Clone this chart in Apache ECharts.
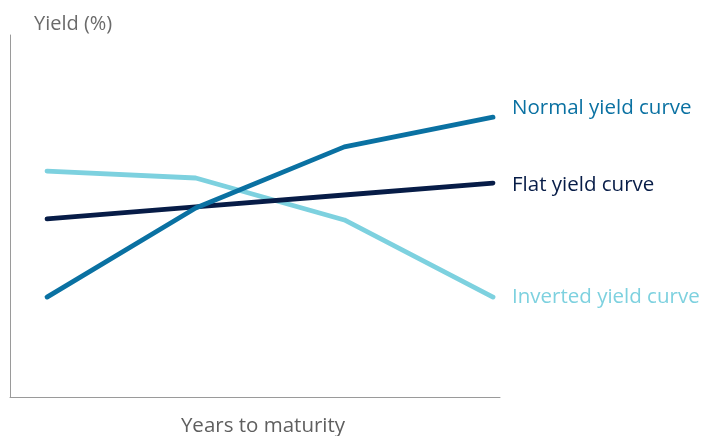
<!DOCTYPE html>
<html><head><meta charset="utf-8">
<script src="https://cdn.jsdelivr.net/npm/echarts@6/dist/echarts.min.js"></script>
<style>html,body{margin:0;padding:0;background:#fff}#c{width:705px;height:436px}</style>
</head><body><div id="c"></div>
<script>
const maturity = [0, 1, 2, 3];
const normalYield = [2.76, 5.22, 6.91, 7.73];
const flatYield = [4.92, 5.25, 5.58, 5.91];
const invertedYield = [6.24, 6.05, 4.89, 2.76];
const seriesNames = ['Normal yield curve', 'Flat yield curve', 'Inverted yield curve'];
const xTitle = 'Years to maturity';
const yTitle = 'Yield (%)';

const colors = ['#0a71a2', '#071c47', '#7dd1df'];
const labelOffsets = [[0, -9], [0, 2], [0, 0]];
const font = 'Open Sans';
const chart = echarts.init(document.getElementById('c'));
const mk = (name, vals, i) => ({
  name, type: 'line', data: maturity.map((x, k) => [x, vals[k]]),
  symbol: 'none', lineStyle: { width: 4.8, color: colors[i], cap: 'round', join: 'round' },
  itemStyle: { color: colors[i] },
  endLabel: { show: true, formatter: '{a}', color: colors[i], fontFamily: font, fontSize: 20.5, distance: 19, offset: labelOffsets[i] },
  z: i === 1 ? 3 : (i === 0 ? 4 : 2)
});
chart.setOption({
  animation: false,
  grid: { left: 10, right: 205, top: 35, bottom: 39, outerBoundsMode: 'none', containLabel: false },
  xAxis: {
    type: 'value', min: -0.249, max: 3.047,
    name: xTitle, nameLocation: 'middle', nameGap: 17,
    nameTextStyle: { color: '#5f5f5f', fontFamily: font, fontSize: 20.5, padding: [2, 0, 0, 16] },
    axisLine: { show: true, onZero: false, lineStyle: { color: '#9a9a9a', width: 1 } },
    axisTick: { show: false }, axisLabel: { show: false }, splitLine: { show: false }
  },
  yAxis: {
    type: 'value', min: 0, max: 10,
    name: yTitle, nameLocation: 'end', nameGap: 1,
    nameTextStyle: { color: '#6b6b6b', fontFamily: font, fontSize: 20, align: 'left', padding: [0, 0, 0, 24] },
    axisLine: { show: true, onZero: false, lineStyle: { color: '#9a9a9a', width: 1 } },
    axisTick: { show: false }, axisLabel: { show: false }, splitLine: { show: false }
  },
  series: [mk(seriesNames[0], normalYield, 0), mk(seriesNames[1], flatYield, 1), mk(seriesNames[2], invertedYield, 2)]
});
</script></body></html>
